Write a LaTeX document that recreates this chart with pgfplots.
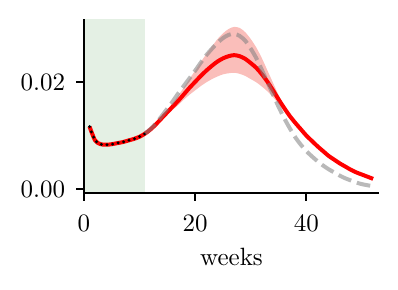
\documentclass[border=0pt]{standalone}
\usepackage{pgfplots}
\pgfplotsset{compat=1.18}
\usepackage{pgfplotstable}
\usepgfplotslibrary{fillbetween}
\definecolor{greenshade}{RGB}{228,240,228}
\definecolor{bandred}{RGB}{250,190,186}
\pgfplotstableread{
w red
1 0.0117
2 0.0091
3 0.0084
4 0.0083
5 0.0084
6 0.0086
7 0.0088
8 0.0091
9 0.0094
10 0.0098
11 0.0104
12 0.0112
13 0.0122
14 0.0133
15 0.0144
16 0.0155
17 0.0166
18 0.0178
19 0.0190
20 0.0201
21 0.0212
22 0.0222
23 0.0231
24 0.0239
25 0.0245
26 0.0249
27 0.0251
28 0.0249
29 0.0244
30 0.0236
31 0.0227
32 0.0215
33 0.0201
34 0.0185
35 0.0168
36 0.0152
37 0.0137
38 0.0124
39 0.0112
40 0.0100
41 0.0090
42 0.0080
43 0.0071
44 0.0062
45 0.0055
46 0.0048
47 0.0042
48 0.0036
49 0.0031
50 0.0027
51 0.0023
52 0.0019
}\redtab
\pgfplotstableread{
w obs
1 0.0117
2 0.0091
3 0.0084
4 0.0083
5 0.0084
6 0.0086
7 0.0088
8 0.0091
9 0.0094
10 0.0098
11 0.0104
}\obstab
\pgfplotstableread{
w grey
11 0.0104
12 0.0113
13 0.0124
14 0.0137
15 0.0151
16 0.0165
17 0.0180
18 0.0194
19 0.0208
20 0.0222
21 0.0237
22 0.0251
23 0.0263
24 0.0274
25 0.0283
26 0.0289
27 0.0291
28 0.0287
29 0.0278
30 0.0263
31 0.0245
32 0.0223
33 0.0200
34 0.0177
35 0.0154
36 0.0133
37 0.0114
38 0.0097
39 0.0083
40 0.0071
41 0.0061
42 0.0052
43 0.0044
44 0.0037
45 0.0031
46 0.0025
47 0.0020
48 0.0016
49 0.0012
50 0.0009
51 0.0007
52 0.0005
}\greytab
\pgfplotstableread{
w hi lo
12 0.0112 0.0112
13 0.0123 0.0121
14 0.0136 0.0131
15 0.0149 0.0140
16 0.0162 0.0149
17 0.0176 0.0158
18 0.0191 0.0168
19 0.0207 0.0177
20 0.0222 0.0185
21 0.0238 0.0193
22 0.0253 0.0200
23 0.0267 0.0206
24 0.0281 0.0211
25 0.0292 0.0215
26 0.0300 0.0217
27 0.0304 0.0218
28 0.0302 0.0216
29 0.0294 0.0212
30 0.0281 0.0206
31 0.0265 0.0200
32 0.0245 0.0192
33 0.0222 0.0183
34 0.0199 0.0172
35 0.0176 0.0160
36 0.0156 0.0148
37 0.0139 0.0135
38 0.0125 0.0123
39 0.0112 0.0112
}\bandtab
\begin{document}
\begin{tikzpicture}
\begin{axis}[
  at={(0pt,0pt)}, anchor=south west,
  scale only axis, width=118pt, height=69.7pt,
  xmin=0, xmax=53.05, ymin=-0.0008, ymax=0.03188,
  axis on top,
  axis lines=left, axis line style={-, line width=0.8pt},
  tick align=outside, major tick length=3pt,
  tick style={line width=0.8pt, black},
  xtick={0,20,40}, ytick={0,0.02},
  yticklabel style={xshift=-1pt, /pgf/number format/fixed, /pgf/number format/precision=2, /pgf/number format/fixed zerofill},
  xticklabel style={yshift=-2.5pt},
  scaled y ticks=false,
  xlabel={weeks},
  xlabel style={yshift=0.5pt},
  clip=true,
]
\addplot[name path=stop, draw=none] coordinates {(0,0.03188) (11,0.03188)};
\addplot[name path=sbot, draw=none] coordinates {(0,-0.0008) (11,-0.0008)};
\addplot[fill=greenshade, draw=none] fill between[of=stop and sbot];
\addplot[name path=hi, draw=none, smooth] table[x=w,y=hi] {\bandtab};
\addplot[name path=lo, draw=none, smooth] table[x=w,y=lo] {\bandtab};
\addplot[fill=bandred, draw=none] fill between[of=hi and lo];
\addplot[red, line width=1.6pt, smooth] table[x=w,y=red] {\redtab};
\addplot[black, line width=1.3pt, line cap=round, dash pattern=on 0pt off 2.25pt, smooth] table[x=w,y=obs] {\obstab};
\addplot[gray, opacity=0.55, line width=1.6pt, dash pattern=on 5.5pt off 2.4pt, smooth] table[x=w,y=grey] {\greytab};
\end{axis}
\path[use as bounding box] (-33.6pt,-38.7pt) rectangle (125.6pt,77.3pt);
\end{tikzpicture}
\end{document}
